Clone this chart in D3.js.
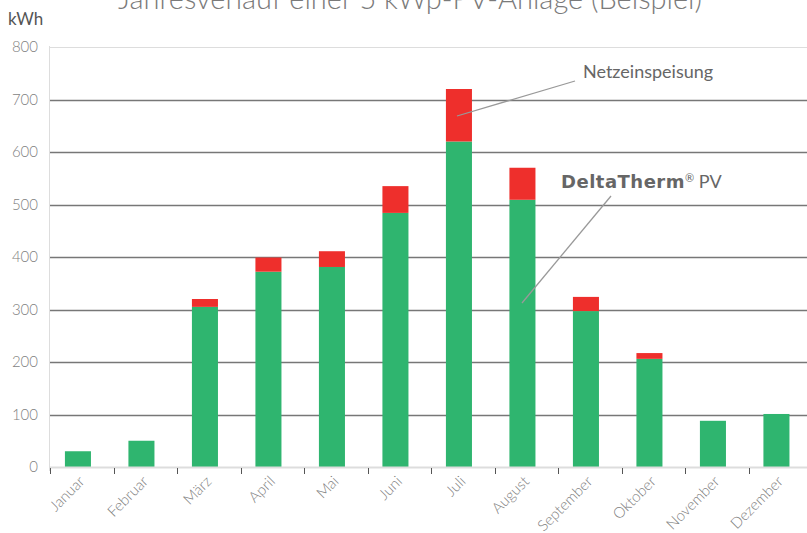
<!DOCTYPE html>
<html>
<head>
<meta charset="utf-8">
<script src="https://cdn.jsdelivr.net/npm/d3@7"></script>
<style>
  body { margin: 0; background: #fff; }
  svg { display: block; font-family: Lato, "Open Sans", sans-serif; }
</style>
</head>
<body>
<div id="chart"></div>
<script>
// Data
var months = ["Januar", "Februar", "März", "April", "Mai", "Juni", "Juli", "August", "September", "Oktober", "November", "Dezember"];
var pvValues = [30, 50, 305, 372, 381, 484, 620, 509, 297, 206, 88, 101];
var gridValues = [0, 0, 15, 27, 30, 51, 100, 61, 27, 11, 0, 0];
var yTicks = [0, 100, 200, 300, 400, 500, 600, 700, 800];

var width = 807, height = 533;
var svg = d3.select("#chart").append("svg")
    .attr("width", width)
    .attr("height", height);

// Scales
var yScale = d3.scaleLinear().domain([0, 800]).range([467, 47]);
var xScale = d3.scaleBand().domain(months).range([50, 812]);
var bw = xScale.bandwidth();

var rows = months.map((m, i) => ({month: m, pv: pvValues[i], grid: gridValues[i]}));
var stacked = d3.stack().keys(["pv", "grid"])(rows);
var colors = {pv: "#2fb56f", grid: "#ee2f2c"};

// Title (cut off at top as in original)
svg.append("text")
    .attr("x", 410)
    .attr("y", 9)
    .attr("text-anchor", "middle")
    .style("font-size", "29px")
    .style("font-weight", 300)
    .style("fill", "#7a7a7a")
    .text("Jahresverlauf einer 5 kWp-PV-Anlage (Beispiel)");

// Unit label
svg.append("text")
    .attr("x", 8)
    .attr("y", 25)
    .style("font-size", "17px")
    .style("fill", "#555")
    .text("kWh");

// Gridlines
svg.append("g").selectAll("line")
    .data(yTicks.filter(d => d > 0))
    .enter().append("line")
    .attr("x1", 49)
    .attr("x2", width)
    .attr("y1", d => Math.round(yScale(d)) + 0.5)
    .attr("y2", d => Math.round(yScale(d)) + 0.5)
    .style("stroke", d => d == 800 ? "#dddddd" : "#777777")
    .style("stroke-width", d => d == 800 ? 1 : 1.3);

// Y axis
var yAxisG = svg.append("g")
    .attr("transform", "translate(49,0)")
    .call(d3.axisLeft(yScale).tickValues(yTicks).tickSize(0).tickPadding(11));
yAxisG.select(".domain").remove();
yAxisG.selectAll("text")
    .style("font-family", "Lato, 'Open Sans', sans-serif")
    .style("font-size", "15px")
    .style("font-weight", 300)
    .style("fill", "#7f7f7f");

svg.append("line")
    .attr("x1", 49.5).attr("x2", 49.5)
    .attr("y1", 46).attr("y2", 471)
    .style("stroke", "#dddddd");

// Bars
svg.append("g").selectAll("g")
    .data(stacked)
    .enter().append("g")
    .style("fill", d => colors[d.key])
    .selectAll("rect")
    .data(d => d)
    .enter().append("rect")
    .attr("x", d => xScale(d.data.month) + bw * 0.235)
    .attr("width", bw * 0.41)
    .attr("y", d => yScale(d[1]))
    .attr("height", d => yScale(d[0]) - yScale(d[1]));

// X axis
svg.append("line")
    .attr("x1", 49).attr("x2", width)
    .attr("y1", 467.5).attr("y2", 467.5)
    .style("stroke", "#dddddd")
    .style("stroke-width", 2);

svg.append("g").selectAll("line")
    .data(months)
    .enter().append("line")
    .attr("x1", d => Math.round(xScale(d)) + 0.5)
    .attr("x2", d => Math.round(xScale(d)) + 0.5)
    .attr("y1", 468)
    .attr("y2", 474)
    .style("stroke", "#555");

svg.append("g").selectAll("text")
    .data(months)
    .enter().append("text")
    .attr("transform", d => "translate(" + (xScale(d) + bw * 0.46) + ",476)rotate(-45)")
    .attr("text-anchor", "end")
    .attr("dy", "0.6em")
    .style("font-size", "15px")
    .style("font-weight", 300)
    .style("fill", "#7f7f7f")
    .text(d => d);

// Annotations
svg.append("line")
    .attr("x1", 575).attr("y1", 81)
    .attr("x2", 457).attr("y2", 116)
    .style("stroke", "#999").style("stroke-width", 1.3);
svg.append("text")
    .attr("x", 583)
    .attr("y", 78)
    .style("font-size", "18px")
    .style("fill", "#666")
    .text("Netzeinspeisung");

svg.append("line")
    .attr("x1", 611).attr("y1", 196)
    .attr("x2", 522).attr("y2", 303)
    .style("stroke", "#999").style("stroke-width", 1.3);
var dt = svg.append("text")
    .attr("x", 561)
    .attr("y", 188)
    .style("font-size", "18px")
    .style("fill", "#666");
dt.append("tspan")
    .style("font-family", "'DejaVu Sans', sans-serif")
    .style("font-weight", "bold")
    .style("letter-spacing", "0.5px")
    .text("DeltaTherm");
dt.append("tspan")
    .attr("dy", -6)
    .style("font-size", "11px")
    .text("®");
dt.append("tspan")
    .attr("dy", 6)
    .text(" PV");
</script>
</body>
</html>
